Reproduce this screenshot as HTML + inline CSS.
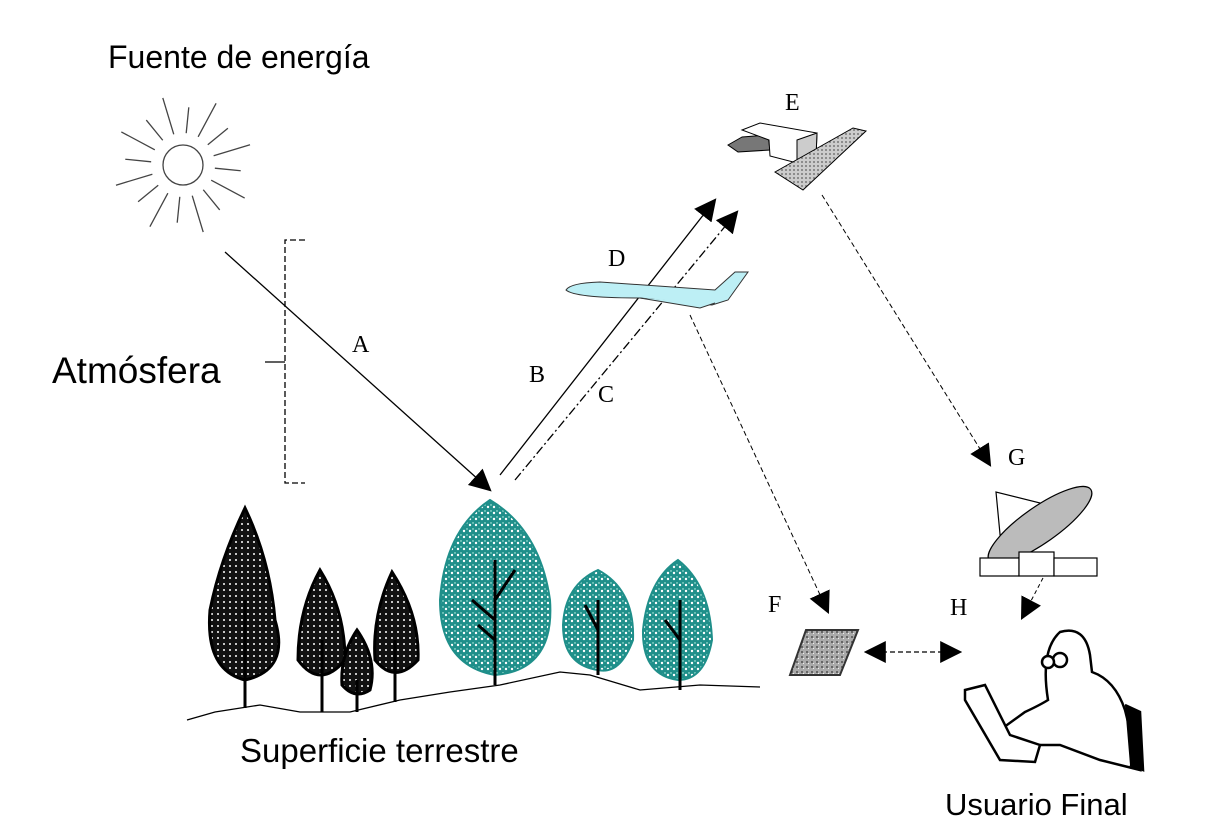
<!DOCTYPE html>
<html><head><meta charset="utf-8"><style>
html,body{margin:0;padding:0;background:#fff;width:1212px;height:839px;overflow:hidden}
svg{display:block}
.sans{font-family:"Liberation Sans",sans-serif}
.serif{font-family:"Liberation Serif",serif;font-size:24px}
</style></head><body>
<svg width="1212" height="839" viewBox="0 0 1212 839">
<defs>
<marker id="ah" viewBox="0 0 10 10" refX="9" refY="5" markerWidth="22" markerHeight="22" markerUnits="userSpaceOnUse" orient="auto-start-reverse"><path d="M0,0L10,5L0,10z" fill="#000"/></marker>
<pattern id="dk" width="6" height="6" patternUnits="userSpaceOnUse"><rect width="6" height="6" fill="#111"/><circle cx="2" cy="2" r="1" fill="#fff"/></pattern>
<pattern id="tl" width="6" height="6" patternUnits="userSpaceOnUse"><rect width="6" height="6" fill="#1f8f8a"/><circle cx="2" cy="3" r="1.2" fill="#fff"/><circle cx="5" cy="1" r="0.7" fill="#cfe"/></pattern>
<pattern id="grid" width="4" height="4" patternUnits="userSpaceOnUse"><rect width="4" height="4" fill="#ccc"/><circle cx="2" cy="2" r="1" fill="#777"/></pattern>
<pattern id="noise" width="5" height="5" patternUnits="userSpaceOnUse"><rect width="5" height="5" fill="#aaa"/><rect x="1" y="1" width="2" height="2" fill="#666"/><rect x="3" y="3" width="1" height="1" fill="#eee"/></pattern>
</defs>

<text x="108" y="68" class="sans" font-size="32">Fuente de energía</text>
<g stroke="#444" stroke-width="1.3" fill="none">
<circle cx="183" cy="165" r="20"/>
<g id="rays"></g>
</g>

<g stroke="#000" stroke-width="1.3" fill="none">
<path d="M305,240 L285,240 L285,483 L305,483" stroke-dasharray="6 3"/>
<path d="M285,362 L265,362"/>
</g>
<text x="52" y="383" class="sans" font-size="37">Atmósfera</text>

<line x1="225" y1="252" x2="490" y2="490" stroke="#000" stroke-width="1.3" marker-end="url(#ah)"/>
<text x="352" y="352" class="serif">A</text>
<line x1="500" y1="475" x2="715" y2="200" stroke="#000" stroke-width="1.3" marker-end="url(#ah)"/>
<text x="529" y="382" class="serif">B</text>
<line x1="515" y1="480" x2="737" y2="212" stroke="#000" stroke-width="1.3" stroke-dasharray="9 3 2 3" marker-end="url(#ah)"/>
<text x="598" y="402" class="serif">C</text>

<g stroke="#333" stroke-width="1">
<path d="M566,290 Q570,283 600,282 L715,290 L735,272 L748,272 L728,300 L712,305 L690,303 L640,298 Q575,298 566,290z" fill="#bdeff5"/>
<path d="M640,298 L700,308 L715,303" fill="#bdeff5"/>
</g>
<text x="608" y="266" class="serif">D</text>

<g stroke="#000" stroke-width="1">
<path d="M742,137 L728,145 L738,152 L770,150 L768,135z" fill="#777"/>
<path d="M742,130 L760,123 L817,133 L816,157 L797,163 L770,156 L769,140z" fill="#fff"/>
<path d="M797,140 L817,133 L816,157 L797,163z" fill="#ccc"/>
<path d="M775,172 L853,128 L866,131 L803,190z" fill="url(#grid)"/>
</g>
<text x="785" y="110" class="serif">E</text>

<line x1="822" y1="195" x2="990" y2="465" stroke="#000" stroke-width="1" stroke-dasharray="5 3" marker-end="url(#ah)"/>
<line x1="690" y1="315" x2="828" y2="612" stroke="#000" stroke-width="1" stroke-dasharray="5 3" marker-end="url(#ah)"/>
<text x="1008" y="465" class="serif">G</text>

<g stroke="#000" stroke-width="1.2">
<path d="M996,492 L1002,555 L1068,510z" fill="#fff"/>
<ellipse cx="1040" cy="525" rx="62" ry="18" transform="rotate(-35 1040 525)" fill="#bbb"/>
<rect x="980" y="558" width="39" height="18" fill="#fff"/><rect x="1019" y="552" width="35" height="24" fill="#fff"/><rect x="1054" y="558" width="43" height="18" fill="#fff"/>
</g>
<line x1="1043" y1="578" x2="1022" y2="618" stroke="#000" stroke-width="1" stroke-dasharray="4 3" marker-end="url(#ah)"/>

<text x="768" y="612" class="serif">F</text>
<path d="M806,630 L858,630 L840,675 L790,675z" fill="url(#noise)" stroke="#333" stroke-width="2"/>
<line x1="866" y1="652" x2="960" y2="652" stroke="#000" stroke-width="1.2" stroke-dasharray="5 3" marker-start="url(#ah)" marker-end="url(#ah)"/>
<text x="950" y="615" class="serif">H</text>

<g stroke="#000" stroke-width="2.5" fill="#fff">
<path d="M1048,700 Q1040,650 1060,632 Q1085,625 1090,655 L1092,672 Q1115,680 1125,710 L1140,770 L1100,760 L1060,745 L1015,745 Q995,745 1000,730 L1025,712 Q1040,705 1048,700z"/>
<path d="M965,690 L985,685 L1010,735 L1040,745 L1035,762 L1000,760 L965,700z"/>
<circle cx="1060" cy="660" r="7"/><circle cx="1048" cy="662" r="6"/>
<path d="M1125,705 L1140,712 L1143,770 L1130,765" fill="#000"/>
</g>
<text x="945" y="815" class="sans" font-size="31">Usuario Final</text>

<path d="M187,720 L215,712 L260,705 L300,712 L350,712 L400,700 L450,692 L500,685 L560,672 L590,675 L640,690 L700,685 L760,687" fill="none" stroke="#000" stroke-width="1.3"/>
<g fill="url(#dk)" stroke="#000" stroke-width="3">
<path d="M245,508 Q270,560 275,620 Q290,670 245,680 Q205,670 210,610 Q220,560 245,508z"/>
<line x1="245" y1="600" x2="245" y2="708"/>
<path d="M320,570 Q345,610 345,660 Q320,690 298,660 Q298,610 320,570z"/>
<line x1="322" y1="640" x2="322" y2="712"/>
<path d="M357,630 Q378,660 370,690 Q355,700 342,685 Q340,655 357,630z"/>
<line x1="357" y1="680" x2="357" y2="712"/>
<path d="M392,572 Q420,615 418,660 Q395,685 375,660 Q372,615 392,572z"/>
<line x1="395" y1="640" x2="395" y2="702"/>
</g>
<g fill="url(#tl)" stroke="#1f8f8a" stroke-width="2">
<path d="M490,500 Q540,530 550,600 Q555,670 495,675 Q440,665 440,600 Q445,530 490,500z"/>
<path d="M598,570 Q635,590 633,640 Q620,675 598,670 Q563,665 563,625 Q565,585 598,570z"/>
<path d="M678,560 Q710,585 712,640 Q705,680 678,680 Q642,675 643,630 Q648,580 678,560z"/>
</g>
<g stroke="#000" stroke-width="3" fill="none">
<path d="M495,685 L495,560 M495,620 L472,600 M495,600 L515,570 M495,640 L478,625"/>
<path d="M598,675 L598,600 M598,630 L585,605"/>
<path d="M680,690 L680,600 M680,640 L665,620"/>
</g>
<text x="240" y="762" class="sans" font-size="33">Superficie terrestre</text>
</svg>
<script>
const g=document.getElementById('rays');
for(let i=0;i<16;i++){const a=i*Math.PI/8+0.1;const r1=32,r2=i%2?70:58;
const l=document.createElementNS('http://www.w3.org/2000/svg','line');
l.setAttribute('x1',183+r1*Math.cos(a));l.setAttribute('y1',165+r1*Math.sin(a));
l.setAttribute('x2',183+r2*Math.cos(a));l.setAttribute('y2',165+r2*Math.sin(a));


g.appendChild(l);}
</script>
</body></html>
